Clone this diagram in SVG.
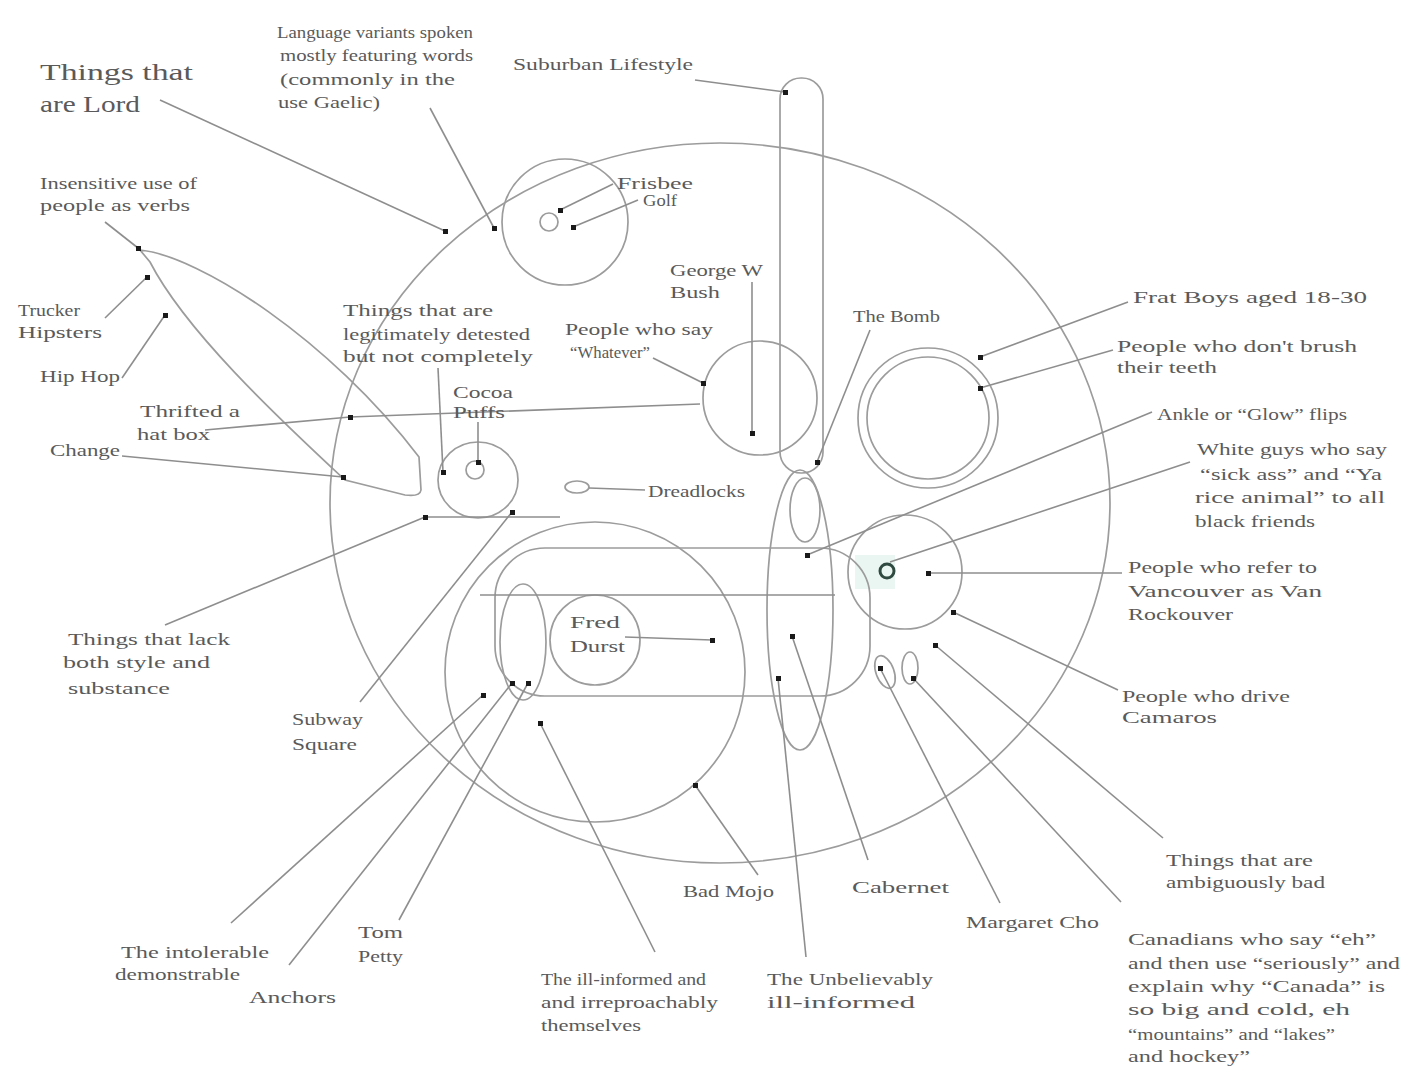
<svg xmlns="http://www.w3.org/2000/svg" width="1402" height="1067" viewBox="0 0 1402 1067">
<style>
.s{fill:none;stroke:#9c9c9c;stroke-width:1.7}
.l{fill:none;stroke:#8e8e8e;stroke-width:1.6}
.d{fill:#1a1a1a}
text{font-family:"Liberation Serif","Times New Roman",serif;font-size:16px;fill:#5a5a5a}
.big{font-size:24px}
</style>
<rect width="1402" height="1067" fill="#ffffff"/>
<g id="shapes">
<g id="universe"><ellipse class="s" cx="720" cy="503" rx="390" ry="360"/></g>
<g id="top-circle"><circle class="s" cx="565" cy="222" r="63"/><circle class="s" cx="549" cy="222" r="9"/></g>
<g id="teardrop"><path class="s" d="M140 250 C200 256 330 340 419 457 L421 490 Q420 497 405 495 L345 480 C275 415 185 330 150 262 Q140 250 140 250 Z"/></g>
<g id="cocoa-circle"><ellipse class="s" cx="478" cy="480" rx="40" ry="38"/><circle class="s" cx="475" cy="470" r="9"/></g>
<g id="dude-circle"><circle class="s" cx="760" cy="398" r="57"/></g>
<g id="tall-stadium"><rect class="s" x="780" y="78" width="43" height="395" rx="21"/></g>
<g id="small-ellipse"><ellipse class="s" cx="805" cy="510" rx="15" ry="32"/></g>
<g id="frat-circles"><circle class="s" cx="928" cy="418" r="70"/><circle class="s" cx="928" cy="418" r="61"/></g>
<g id="vancouver-circle"><circle class="s" cx="905" cy="572" r="57"/></g>
<g id="green-mark"><rect x="855" y="555" width="40" height="34" fill="#eaf6f1"/><circle cx="887" cy="571" r="7" fill="none" stroke="#2f4a40" stroke-width="3"/></g>
<g id="big-circle"><circle class="s" cx="595" cy="672" r="150"/></g>
<g id="fred-circle"><circle class="s" cx="595" cy="640" r="45"/></g>
<g id="left-ellipse"><ellipse class="s" cx="523" cy="642" rx="23" ry="58"/></g>
<g id="lower-box"><rect class="s" x="495" y="548" width="375" height="148" rx="50"/></g>
<g id="tall-ellipse"><ellipse class="s" cx="800" cy="610" rx="33" ry="140"/></g>
<g id="dread-ellipse"><ellipse class="s" cx="577" cy="487" rx="12" ry="6"/></g>
<g id="cho-ellipses"><ellipse class="s" cx="885" cy="672" rx="9" ry="17" transform="rotate(-20 885 672)"/><ellipse class="s" cx="910" cy="668" rx="8" ry="16"/></g>
</g>
<g id="connectors">
<path class="l" d="M160 100 L445 231"/>
<path class="l" d="M430 108 L494 228"/>
<path class="l" d="M613 184 L560 210"/>
<path class="l" d="M638 200 L573 227"/>
<path class="l" d="M695 80 L785 92"/>
<path class="l" d="M105 222 L138 248"/>
<path class="l" d="M105 318 L147 277"/>
<path class="l" d="M122 378 L165 315"/>
<path class="l" d="M205 430 L350 417"/>
<path class="l" d="M350 417 L700 404"/>
<path class="l" d="M122 456 L343 477"/>
<path class="l" d="M438 368 L443 472"/>
<path class="l" d="M478 422 L478 462"/>
<path class="l" d="M165 625 L425 517"/>
<path class="l" d="M425 517 L560 517"/>
<path class="l" d="M360 702 L512 512"/>
<path class="l" d="M645 490 L589 488"/>
<path class="l" d="M653 358 L703 383"/>
<path class="l" d="M752 282 L752 433"/>
<path class="l" d="M870 330 L817 462"/>
<path class="l" d="M1128 302 L980 357"/>
<path class="l" d="M1113 350 L980 388"/>
<path class="l" d="M1152 412 L807 555"/>
<path class="l" d="M1190 462 L890 562"/>
<path class="l" d="M1122 573 L928 573"/>
<path class="l" d="M480 595 L835 595"/>
<path class="l" d="M625 637 L712 640"/>
<path class="l" d="M1118 690 L953 612"/>
<path class="l" d="M1163 838 L935 645"/>
<path class="l" d="M1121 902 L913 678"/>
<path class="l" d="M1000 903 L880 668"/>
<path class="l" d="M868 860 L792 636"/>
<path class="l" d="M806 957 L778 678"/>
<path class="l" d="M758 875 L695 785"/>
<path class="l" d="M655 952 L540 723"/>
<path class="l" d="M231 923 L483 695"/>
<path class="l" d="M289 965 L512 683"/>
<path class="l" d="M399 920 L528 683"/>
</g>
<g id="dots">
<rect class="d" x="443" y="229" width="5" height="5"/>
<rect class="d" x="492" y="226" width="5" height="5"/>
<rect class="d" x="558" y="208" width="5" height="5"/>
<rect class="d" x="571" y="225" width="5" height="5"/>
<rect class="d" x="783" y="90" width="5" height="5"/>
<rect class="d" x="136" y="246" width="5" height="5"/>
<rect class="d" x="145" y="275" width="5" height="5"/>
<rect class="d" x="163" y="313" width="5" height="5"/>
<rect class="d" x="348" y="415" width="5" height="5"/>
<rect class="d" x="341" y="475" width="5" height="5"/>
<rect class="d" x="441" y="470" width="5" height="5"/>
<rect class="d" x="476" y="460" width="5" height="5"/>
<rect class="d" x="423" y="515" width="5" height="5"/>
<rect class="d" x="510" y="510" width="5" height="5"/>
<rect class="d" x="701" y="381" width="5" height="5"/>
<rect class="d" x="750" y="431" width="5" height="5"/>
<rect class="d" x="815" y="460" width="5" height="5"/>
<rect class="d" x="978" y="355" width="5" height="5"/>
<rect class="d" x="978" y="386" width="5" height="5"/>
<rect class="d" x="805" y="553" width="5" height="5"/>
<rect class="d" x="926" y="571" width="5" height="5"/>
<rect class="d" x="951" y="610" width="5" height="5"/>
<rect class="d" x="933" y="643" width="5" height="5"/>
<rect class="d" x="911" y="676" width="5" height="5"/>
<rect class="d" x="878" y="666" width="5" height="5"/>
<rect class="d" x="790" y="634" width="5" height="5"/>
<rect class="d" x="776" y="676" width="5" height="5"/>
<rect class="d" x="693" y="783" width="5" height="5"/>
<rect class="d" x="538" y="721" width="5" height="5"/>
<rect class="d" x="526" y="681" width="5" height="5"/>
<rect class="d" x="510" y="681" width="5" height="5"/>
<rect class="d" x="481" y="693" width="5" height="5"/>
<rect class="d" x="710" y="638" width="5" height="5"/>
</g>
<g id="labels">
<text class="big" x="40" y="80" textLength="153" lengthAdjust="spacingAndGlyphs">Things that</text>
<text class="big" x="40" y="112" textLength="100" lengthAdjust="spacingAndGlyphs">are Lord</text>
<text x="277" y="38" textLength="196" lengthAdjust="spacingAndGlyphs">Language variants spoken</text>
<text x="280" y="61" textLength="193" lengthAdjust="spacingAndGlyphs">mostly featuring words</text>
<text x="280" y="85" textLength="175" lengthAdjust="spacingAndGlyphs">(commonly in the</text>
<text x="278" y="108" textLength="102" lengthAdjust="spacingAndGlyphs">use Gaelic)</text>
<text x="513" y="70" textLength="180" lengthAdjust="spacingAndGlyphs">Suburban Lifestyle</text>
<text x="40" y="189" textLength="157" lengthAdjust="spacingAndGlyphs">Insensitive use of</text>
<text x="40" y="211" textLength="150" lengthAdjust="spacingAndGlyphs">people as verbs</text>
<text x="18" y="316" textLength="62" lengthAdjust="spacingAndGlyphs">Trucker</text>
<text x="18" y="338" textLength="84" lengthAdjust="spacingAndGlyphs">Hipsters</text>
<text x="40" y="382" textLength="80" lengthAdjust="spacingAndGlyphs">Hip Hop</text>
<text x="140" y="417" textLength="100" lengthAdjust="spacingAndGlyphs">Thrifted a</text>
<text x="137" y="440" textLength="73" lengthAdjust="spacingAndGlyphs">hat box</text>
<text x="50" y="456" textLength="70" lengthAdjust="spacingAndGlyphs">Change</text>
<text x="343" y="316" textLength="150" lengthAdjust="spacingAndGlyphs">Things that are</text>
<text x="343" y="340" textLength="187" lengthAdjust="spacingAndGlyphs">legitimately detested</text>
<text x="343" y="362" textLength="190" lengthAdjust="spacingAndGlyphs">but not completely</text>
<text x="453" y="398" textLength="60" lengthAdjust="spacingAndGlyphs">Cocoa</text>
<text x="453" y="418" textLength="52" lengthAdjust="spacingAndGlyphs">Puffs</text>
<text x="617" y="189" textLength="76" lengthAdjust="spacingAndGlyphs">Frisbee</text>
<text x="643" y="206" textLength="34" lengthAdjust="spacingAndGlyphs">Golf</text>
<text x="670" y="276" textLength="93" lengthAdjust="spacingAndGlyphs">George W</text>
<text x="670" y="298" textLength="50" lengthAdjust="spacingAndGlyphs">Bush</text>
<text x="565" y="335" textLength="148" lengthAdjust="spacingAndGlyphs">People who say</text>
<text x="570" y="358" textLength="80" lengthAdjust="spacingAndGlyphs">“Whatever”</text>
<text x="853" y="322" textLength="87" lengthAdjust="spacingAndGlyphs">The Bomb</text>
<text x="1133" y="303" textLength="234" lengthAdjust="spacingAndGlyphs">Frat Boys aged 18-30</text>
<text x="1117" y="352" textLength="240" lengthAdjust="spacingAndGlyphs">People who don't brush</text>
<text x="1117" y="373" textLength="100" lengthAdjust="spacingAndGlyphs">their teeth</text>
<text x="1157" y="420" textLength="190" lengthAdjust="spacingAndGlyphs">Ankle or “Glow” flips</text>
<text x="1197" y="455" textLength="190" lengthAdjust="spacingAndGlyphs">White guys who say</text>
<text x="1200" y="480" textLength="182" lengthAdjust="spacingAndGlyphs">“sick ass” and “Ya</text>
<text x="1195" y="503" textLength="190" lengthAdjust="spacingAndGlyphs">rice animal” to all</text>
<text x="1195" y="527" textLength="120" lengthAdjust="spacingAndGlyphs">black friends</text>
<text x="1128" y="573" textLength="189" lengthAdjust="spacingAndGlyphs">People who refer to</text>
<text x="1128" y="597" textLength="194" lengthAdjust="spacingAndGlyphs">Vancouver as Van</text>
<text x="1128" y="620" textLength="105" lengthAdjust="spacingAndGlyphs">Rockouver</text>
<text x="1122" y="702" textLength="168" lengthAdjust="spacingAndGlyphs">People who drive</text>
<text x="1122" y="723" textLength="95" lengthAdjust="spacingAndGlyphs">Camaros</text>
<text x="68" y="645" textLength="162" lengthAdjust="spacingAndGlyphs">Things that lack</text>
<text x="63" y="668" textLength="147" lengthAdjust="spacingAndGlyphs">both style and</text>
<text x="68" y="694" textLength="102" lengthAdjust="spacingAndGlyphs">substance</text>
<text x="292" y="725" textLength="71" lengthAdjust="spacingAndGlyphs">Subway</text>
<text x="292" y="750" textLength="65" lengthAdjust="spacingAndGlyphs">Square</text>
<text x="648" y="497" textLength="97" lengthAdjust="spacingAndGlyphs">Dreadlocks</text>
<text x="570" y="628" textLength="50" lengthAdjust="spacingAndGlyphs">Fred</text>
<text x="570" y="652" textLength="55" lengthAdjust="spacingAndGlyphs">Durst</text>
<text x="121" y="958" textLength="148" lengthAdjust="spacingAndGlyphs">The intolerable</text>
<text x="115" y="980" textLength="125" lengthAdjust="spacingAndGlyphs">demonstrable</text>
<text x="249" y="1003" textLength="87" lengthAdjust="spacingAndGlyphs">Anchors</text>
<text x="358" y="938" textLength="45" lengthAdjust="spacingAndGlyphs">Tom</text>
<text x="358" y="962" textLength="45" lengthAdjust="spacingAndGlyphs">Petty</text>
<text x="541" y="985" textLength="165" lengthAdjust="spacingAndGlyphs">The ill-informed and</text>
<text x="541" y="1008" textLength="177" lengthAdjust="spacingAndGlyphs">and irreproachably</text>
<text x="541" y="1031" textLength="100" lengthAdjust="spacingAndGlyphs">themselves</text>
<text x="683" y="897" textLength="91" lengthAdjust="spacingAndGlyphs">Bad Mojo</text>
<text x="852" y="893" textLength="97" lengthAdjust="spacingAndGlyphs">Cabernet</text>
<text x="966" y="928" textLength="133" lengthAdjust="spacingAndGlyphs">Margaret Cho</text>
<text x="767" y="985" textLength="166" lengthAdjust="spacingAndGlyphs">The Unbelievably</text>
<text x="767" y="1008" textLength="148" lengthAdjust="spacingAndGlyphs">ill-informed</text>
<text x="1166" y="866" textLength="147" lengthAdjust="spacingAndGlyphs">Things that are</text>
<text x="1166" y="888" textLength="159" lengthAdjust="spacingAndGlyphs">ambiguously bad</text>
<text x="1128" y="945" textLength="248" lengthAdjust="spacingAndGlyphs">Canadians who say “eh”</text>
<text x="1128" y="969" textLength="272" lengthAdjust="spacingAndGlyphs">and then use “seriously” and</text>
<text x="1128" y="992" textLength="257" lengthAdjust="spacingAndGlyphs">explain why “Canada” is</text>
<text x="1128" y="1015" textLength="222" lengthAdjust="spacingAndGlyphs">so big and cold, eh</text>
<text x="1128" y="1040" textLength="207" lengthAdjust="spacingAndGlyphs">“mountains” and “lakes”</text>
<text x="1128" y="1062" textLength="122" lengthAdjust="spacingAndGlyphs">and hockey”</text>
</g>
</svg>
